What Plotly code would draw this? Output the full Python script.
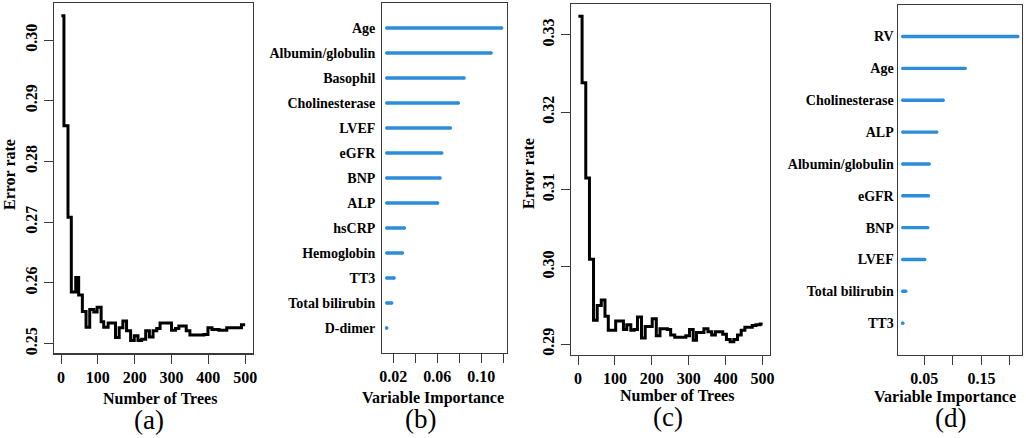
import plotly.graph_objects as go

W, H = 1026, 438

# ---------------- data ----------------
trees_a = [1, 8, 19, 28, 40, 48, 58, 68, 78, 89, 98, 109, 116, 128, 148, 158, 168, 178, 189, 199,
           209, 219, 230, 240, 250, 260, 269, 300, 311, 320, 340, 350, 388, 399, 410, 429, 450, 490, 500]
err_a = [0.3040, 0.2859, 0.2708, 0.2585, 0.2609, 0.2580, 0.2553, 0.2527, 0.2556, 0.2552, 0.2560,
         0.2536, 0.2527, 0.2534, 0.2510, 0.2526, 0.2537, 0.2521, 0.2505, 0.2513, 0.2505, 0.2507,
         0.2521, 0.2511, 0.2521, 0.2525, 0.2534, 0.2522, 0.2525, 0.2529, 0.2521, 0.2514, 0.2515,
         0.2526, 0.2523, 0.2522, 0.2526, 0.2531, 0.2531]

trees_c = [1, 11, 21, 31, 42, 52, 63, 73, 82, 102, 123, 132, 143, 152, 161, 172, 182, 201, 212, 222,
           242, 251, 262, 292, 302, 312, 321, 341, 352, 362, 372, 392, 402, 412, 422, 432, 442, 452,
           472, 482, 493, 500]
err_c = [0.3324, 0.3238, 0.3115, 0.3010, 0.2931, 0.2950, 0.2957, 0.2936, 0.2918, 0.2930, 0.2919,
         0.2925, 0.2918, 0.2919, 0.2935, 0.2908, 0.2923, 0.2933, 0.2911, 0.2920, 0.2919, 0.2912,
         0.2909, 0.2911, 0.2919, 0.2905, 0.2915, 0.2920, 0.2916, 0.2912, 0.2916, 0.2913, 0.2906,
         0.2903, 0.2906, 0.2912, 0.2918, 0.2922, 0.2924, 0.2925, 0.2926, 0.2926]

vars_b = ["Age", "Albumin/globulin", "Basophil", "Cholinesterase", "LVEF", "eGFR", "BNP", "ALP",
          "hsCRP", "Hemoglobin", "TT3", "Total bilirubin", "D-dimer"]
imp_b = [0.1186, 0.1090, 0.0844, 0.0792, 0.0720, 0.0641, 0.0626, 0.0604, 0.0301, 0.0283, 0.0208,
         0.0186, 0.0140]

vars_d = ["RV", "Age", "Cholinesterase", "ALP", "Albumin/globulin", "eGFR", "BNP", "LVEF",
          "Total bilirubin", "TT3"]
imp_d = [0.2137, 0.1216, 0.0831, 0.0719, 0.0586, 0.0574, 0.0562, 0.0509, 0.0176, 0.0122]

ticks_err_a = [0.25, 0.26, 0.27, 0.28, 0.29, 0.30]
ticks_err_c = [0.29, 0.30, 0.31, 0.32, 0.33]
ticks_trees = [0, 100, 200, 300, 400, 500]
ticks_imp_b = [0.02, 0.04, 0.06, 0.08, 0.10, 0.12]
labels_imp_b = ["0.02", "", "0.06", "", "0.10", ""]
ticks_imp_d = [0.05, 0.10, 0.15, 0.20]
labels_imp_d = ["0.05", "", "0.15", ""]

# ---------------- style ----------------
FONT = "Liberation Serif"
BLUE = "#2e8ddb"
FRAME = "#3a3a3a"


def px_x(p):
    return p / W


def px_y(p):
    return 1 - p / H


fig = go.Figure()

# step lines
fig.add_trace(go.Scatter(x=trees_a, y=err_a, mode="lines", line=dict(shape="hv", color="black", width=3),
                         xaxis="x", yaxis="y", showlegend=False, hoverinfo="skip"))
fig.add_trace(go.Scatter(x=trees_c, y=err_c, mode="lines", line=dict(shape="hv", color="black", width=3),
                         xaxis="x3", yaxis="y3", showlegend=False, hoverinfo="skip"))


def seg_trace(names, vals, xa, ya):
    base = min(vals)
    xs, ys = [], []
    for n, v in zip(names, vals):
        xs += [base, v, None]
        ys += [n, n, None]
    return go.Scatter(x=xs, y=ys, mode="lines+markers",
                      line=dict(color=BLUE, width=3.4),
                      marker=dict(color=BLUE, size=3.4, line=dict(width=0)),
                      xaxis=xa, yaxis=ya, showlegend=False, hoverinfo="skip")


fig.add_trace(seg_trace(vars_b, imp_b, "x2", "y2"))
fig.add_trace(seg_trace(vars_d, imp_d, "x4", "y4"))

tickfont = dict(family=FONT, size=16, color="black", weight="bold")
catfont = dict(family=FONT, size=14, color="black", weight="bold")
common = dict(showline=True, mirror=True, linecolor=FRAME, linewidth=1.2, showgrid=False,
              zeroline=False, automargin=False, fixedrange=True)

fig.update_layout(
    width=W, height=H,
    margin=dict(l=0, r=0, t=0, b=0),
    paper_bgcolor="white", plot_bgcolor="white",
    font=dict(family=FONT),
    xaxis=dict(domain=[px_x(54), px_x(252.5)], anchor="y", range=[-19, 520],
               tickvals=ticks_trees, ticks="outside", ticklen=9, tickcolor=FRAME,
               tickfont=tickfont, **common),
    yaxis=dict(domain=[px_y(353.3), px_y(3)], anchor="x", range=[0.2484, 0.3061],
               tickvals=ticks_err_a, tickformat=".2f", ticks="outside", ticklen=9, tickcolor=FRAME,
               tickangle=-90, tickfont=tickfont, **common),
    xaxis2=dict(domain=[px_x(382.3), px_x(506.7)], anchor="y2", range=[0.0100, 0.1231],
                tickvals=ticks_imp_b, ticktext=labels_imp_b, ticks="outside", ticklen=9,
                tickcolor=FRAME, tickfont=tickfont, **common),
    yaxis2=dict(domain=[px_y(353), px_y(3)], anchor="x2", type="category",
                categoryorder="array", categoryarray=vars_b[::-1], range=[-1, len(vars_b)],
                ticks="", ticklabelstandoff=3, tickfont=catfont, **common),
    xaxis3=dict(domain=[px_x(571), px_x(770)], anchor="y3", range=[-19, 520],
                tickvals=ticks_trees, ticks="outside", ticklen=9, tickcolor=FRAME,
                tickfont=tickfont, **common),
    yaxis3=dict(domain=[px_y(355), px_y(4)], anchor="x3", range=[0.2886, 0.3340],
                tickvals=ticks_err_c, tickformat=".2f", ticks="outside", ticklen=9, tickcolor=FRAME,
                tickangle=-90, tickfont=tickfont, **common),
    xaxis4=dict(domain=[px_x(897.7), px_x(1021.7)], anchor="y4", range=[0.00344, 0.2205],
                tickvals=ticks_imp_d, ticktext=labels_imp_d, ticks="outside", ticklen=9,
                tickcolor=FRAME, tickfont=tickfont, **common),
    yaxis4=dict(domain=[px_y(355), px_y(4.7)], anchor="x4", type="category",
                categoryorder="array", categoryarray=vars_d[::-1], range=[-1, len(vars_d)],
                ticks="", ticklabelstandoff=0, tickfont=catfont, **common),
)


def ann(text, x, y, size=16, bold=True, angle=0):
    fig.add_annotation(text=text, x=px_x(x), y=px_y(y), xref="paper", yref="paper",
                       xanchor="center", yanchor="middle", showarrow=False, textangle=angle,
                       font=dict(family=FONT, size=size, color="black",
                                 weight="bold" if bold else "normal"))


# axis titles
ann("Error rate", 9, 175, angle=-90)
ann("Error rate", 528, 174, angle=-90)
ann("Number of Trees", 160, 398)
ann("Number of Trees", 677, 395)
ann("Variable Importance", 433, 398)
ann("Variable Importance", 945, 397)
# panel captions
ann("(a)", 149, 420, size=27, bold=False)
ann("(b)", 420, 419, size=27, bold=False)
ann("(c)", 668, 417, size=27, bold=False)
ann("(d)", 950, 418, size=27, bold=False)

fig.write_html("out.html",
               config={"displayModeBar": False, "staticPlot": True},
               post_script="document.body.style.margin='0';document.body.style.overflow='hidden';")
